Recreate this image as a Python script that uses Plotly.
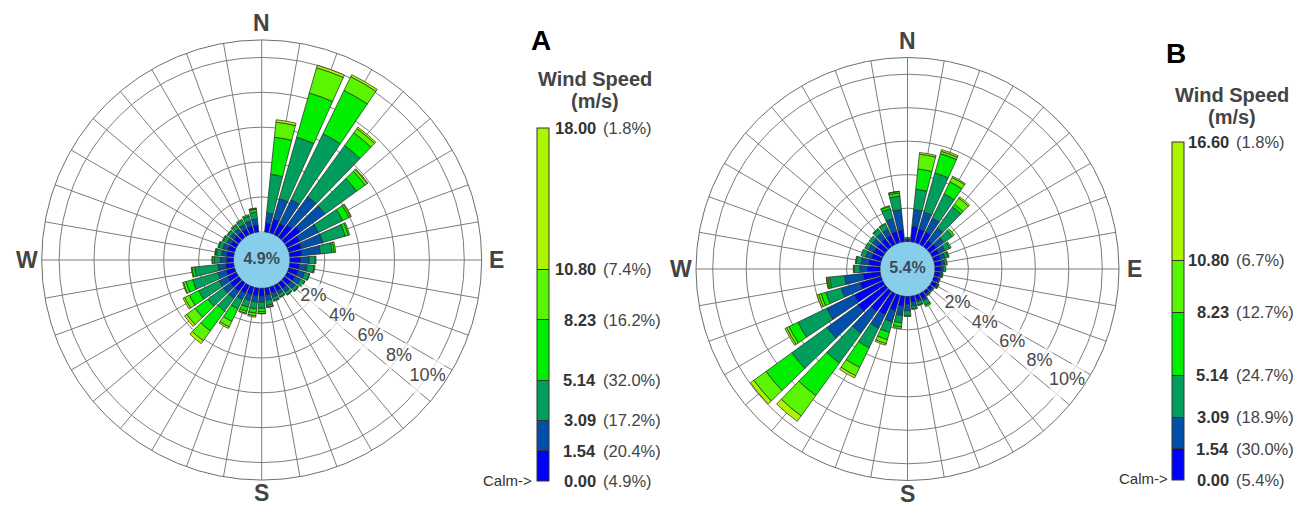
import math
import plotly.graph_objects as go

# ---------------- data ----------------
DIRECTIONS = list(range(10, 361, 10))          # bar centre directions (deg)
ANGLE_TICKS = list(range(0, 360, 10))          # spokes every 10 deg
COMPASS_THETA = [0, 90, 180, 270]
COMPASS_TEXT = ["N", "E", "S", "W"]
RING_VALUES = [2, 4, 6, 8, 10]
RING_TEXT = ["2%", "4%", "6%", "8%", "10%"]

CLASS_COLORS = ["#0000FF", "#0050AA", "#009E5C", "#00EE00", "#5AF500", "#AEF500"]

# ---- panel A ----
A_BOUNDS = [0.00, 1.54, 3.09, 5.14, 8.23, 10.80, 18.00]
A_PCT = [4.9, 20.4, 17.2, 32.0, 16.2, 7.4, 1.8]
A_CALM = "4.9%"
A_0_154 = [0.51, 0.82, 0.69, 0.87, 1.12, 0.80, 0.75, 0.70, 0.60, 0.55, 0.55, 0.50,
           0.45, 0.40, 0.35, 0.35, 0.40, 0.45, 0.45, 0.45, 0.50, 0.60, 0.60, 0.55,
           0.50, 0.45, 0.40, 0.40, 0.40, 0.35, 0.35, 0.35, 0.35, 0.40, 0.40, 0.00]
A_154_309 = [0.58, 1.22, 1.55, 2.00, 1.74, 1.20, 1.28, 1.07, 0.50, 0.45, 0.38, 0.35,
             0.30, 0.25, 0.20, 0.25, 0.30, 0.35, 0.35, 0.35, 0.40, 0.50, 0.50, 0.55,
             0.50, 0.45, 0.35, 0.30, 0.30, 0.25, 0.25, 0.25, 0.30, 0.30, 0.35, 0.00]
A_309_514 = [2.23, 3.66, 4.19, 3.62, 2.24, 1.55, 1.33, 0.68, 0.35, 0.40, 0.30, 0.28,
             0.22, 0.20, 0.20, 0.20, 0.30, 0.35, 0.40, 0.40, 0.60, 0.90, 1.10, 1.30,
             1.50, 1.35, 0.35, 0.30, 0.25, 0.25, 0.20, 0.25, 0.25, 0.30, 0.40, 0.00]
A_514_823 = [2.14, 2.64, 2.76, 0.90, 0.60, 0.40, 0.20, 0.12, 0.05, 0.06, 0.02, 0.02,
             0.03, 0.03, 0.03, 0.05, 0.10, 0.20, 0.25, 0.25, 0.80, 1.40, 0.90, 0.60,
             0.40, 0.15, 0.10, 0.07, 0.05, 0.05, 0.04, 0.07, 0.08, 0.09, 0.15, 0.00]
A_823_1080 = [0.87, 1.51, 0.88, 0.30, 0.15, 0.10, 0.07, 0.08, 0.00, 0.00, 0.00, 0.00,
              0.00, 0.00, 0.00, 0.00, 0.02, 0.10, 0.15, 0.12, 0.35, 0.70, 0.60, 0.30,
              0.15, 0.05, 0.04, 0.02, 0.00, 0.00, 0.00, 0.00, 0.00, 0.00, 0.06, 0.00]
A_1080_up = [0.14, 0.15, 0.13, 0.10, 0.05, 0.05, 0.00, 0.00, 0.00, 0.00, 0.00, 0.00,
             0.00, 0.00, 0.00, 0.00, 0.00, 0.02, 0.08, 0.05, 0.10, 0.20, 0.15, 0.10,
             0.05, 0.00, 0.00, 0.00, 0.00, 0.00, 0.00, 0.00, 0.00, 0.00, 0.02, 0.00]

# ---- panel B ----
B_BOUNDS = [0.00, 1.54, 3.09, 5.14, 8.23, 10.80, 16.60]
B_PCT = [5.4, 30.0, 18.9, 24.7, 12.7, 6.7, 1.8]
B_CALM = "5.4%"
B_0_154 = [0.92, 0.84, 0.82, 0.46, 0.50, 0.45, 0.40, 0.40, 0.35, 0.30, 0.25, 0.30,
           0.20, 0.20, 0.35, 0.30, 0.35, 0.45, 0.60, 0.95, 1.40, 1.50, 2.00, 1.90,
           1.32, 1.03, 0.75, 0.70, 0.60, 0.60, 0.60, 0.60, 0.60, 0.70, 0.72, 0.10]
B_154_309 = [1.01, 1.05, 0.92, 0.93, 0.55, 0.40, 0.30, 0.20, 0.15, 0.12, 0.10, 0.12,
             0.08, 0.08, 0.12, 0.10, 0.25, 0.40, 0.55, 0.70, 0.90, 1.60, 2.30, 1.83,
             1.16, 1.11, 0.45, 0.45, 0.35, 0.35, 0.35, 0.40, 0.40, 0.80, 1.21, 0.05]
B_309_514 = [1.22, 2.44, 1.61, 1.55, 0.60, 0.31, 0.20, 0.15, 0.15, 0.08, 0.05, 0.05,
             0.05, 0.08, 0.30, 0.20, 0.15, 0.30, 0.45, 0.65, 1.30, 2.20, 2.60, 1.91,
             0.95, 0.90, 0.35, 0.30, 0.30, 0.25, 0.25, 0.30, 0.35, 0.60, 0.81, 0.10]
B_514_823 = [1.22, 1.20, 0.80, 0.20, 0.17, 0.10, 0.05, 0.00, 0.00, 0.00, 0.00, 0.00,
             0.00, 0.00, 0.10, 0.05, 0.05, 0.05, 0.25, 0.45, 1.30, 2.40, 1.90, 0.60,
             0.30, 0.10, 0.05, 0.05, 0.00, 0.00, 0.00, 0.05, 0.05, 0.15, 0.20, 0.00]
B_823_1080 = [0.89, 0.15, 0.30, 0.45, 0.00, 0.00, 0.00, 0.00, 0.00, 0.00, 0.00, 0.00,
              0.00, 0.00, 0.00, 0.00, 0.00, 0.00, 0.10, 0.25, 0.55, 1.50, 0.90, 0.16,
              0.15, 0.08, 0.00, 0.00, 0.00, 0.00, 0.00, 0.00, 0.00, 0.05, 0.08, 0.00]
B_1080_up = [0.10, 0.10, 0.08, 0.10, 0.00, 0.00, 0.00, 0.00, 0.00, 0.00, 0.00, 0.00,
             0.00, 0.00, 0.00, 0.00, 0.00, 0.00, 0.00, 0.10, 0.15, 0.40, 0.25, 0.10,
             0.10, 0.03, 0.00, 0.00, 0.00, 0.00, 0.00, 0.00, 0.00, 0.00, 0.02, 0.00]

# ---------------- layout constants ----------------
PAGE_W, PAGE_H = 1308, 509
BODY = 8                                  # default <body> margin of the html page
W, H = PAGE_W - BODY, PAGE_H - BODY       # figure size so page == window
FONT = "Arial, 'Liberation Sans', sans-serif"
GRID = "#7d7d7d"
CALM_FILL = "#87CEEB"
R_MAX = 11
COMPASS_GAP = {0: 17, 90: 15, 180: 13, 270: 15}


def fx(x):  # page pixel -> paper x
    return (x - BODY) / W


def fy(y):  # page pixel -> paper y
    return 1 - (y - BODY) / H


PANELS = [
    dict(key="polar", cax="coloraxis", cx=261.7, cy=260.0, R=220.0, off=1.62,
         classes=[A_0_154, A_154_309, A_309_514, A_514_823, A_823_1080, A_1080_up],
         bounds=A_BOUNDS, pct=A_PCT, calm=A_CALM,
         cb_x=537, cb_top=128, cb_bot=481, num_right=598, pct_left=601,
         letter="A", letter_xy=(541, 40), title_x=595, title_y=(79, 101), calm_xy=(534, 480)),
    dict(key="polar2", cax="coloraxis2", cx=907.5, cy=269.0, R=211.5, off=1.64,
         classes=[B_0_154, B_154_309, B_309_514, B_514_823, B_823_1080, B_1080_up],
         bounds=B_BOUNDS, pct=B_PCT, calm=B_CALM,
         cb_x=1172, cb_top=142, cb_bot=480, num_right=1231, pct_left=1234,
         letter="B", letter_xy=(1176, 53), title_x=1232, title_y=(95, 117), calm_xy=(1170, 478)),
]

fig = go.Figure()
layout = dict(width=W, height=H,
              margin=dict(l=0, r=0, t=0, b=0, pad=0, autoexpand=False),
              paper_bgcolor="white", plot_bgcolor="white", showlegend=False,
              font=dict(family=FONT, color="#444"))
annotations = []

for p in PANELS:
    off = p["off"]
    # calm disk
    fig.add_trace(go.Barpolar(
        r=[off] * len(DIRECTIONS), base=[-off] * len(DIRECTIONS), theta=DIRECTIONS,
        width=[10] * len(DIRECTIONS), subplot=p["key"],
        marker=dict(color=CALM_FILL, line=dict(color=CALM_FILL, width=1)),
        hoverinfo="skip"))
    # stacked speed classes (only non-zero segments are drawn)
    cum = [0.0] * len(DIRECTIONS)
    b = p["bounds"]
    for i, vals in enumerate(p["classes"]):
        mid = (b[i] + b[i + 1]) / 2.0
        idx = [k for k, v in enumerate(vals) if v > 0]
        fig.add_trace(go.Barpolar(
            r=[vals[k] for k in idx], base=[cum[k] for k in idx],
            theta=[DIRECTIONS[k] for k in idx], width=[8.2] * len(idx),
            subplot=p["key"],
            marker=dict(color=[mid] * len(idx), coloraxis=p["cax"],
                        line=dict(color="rgba(35,45,30,0.9)", width=0.8)),
            hoverinfo="skip"))
        cum = [c + v for c, v in zip(cum, vals)]
    # ring labels with white knock-out boxes
    fig.add_trace(go.Scatterpolar(
        r=RING_VALUES, theta=[125] * len(RING_VALUES), mode="markers+text",
        text=RING_TEXT, textposition="middle center", subplot=p["key"],
        marker=dict(symbol="square", color="white", size=[24, 26, 26, 26, 34],
                    line=dict(width=0)),
        textfont=dict(family=FONT, size=18, color="#4a4a4a"), hoverinfo="skip"))
    # calm text
    fig.add_trace(go.Scatterpolar(
        r=[-off + 0.001], theta=[0], mode="text", text=["<b>%s</b>" % p["calm"]],
        textposition="middle center", subplot=p["key"],
        textfont=dict(family=FONT, size=16, color="#3d4a57"), hoverinfo="skip"))

    cx, cy, R = p["cx"], p["cy"], p["R"]
    layout[p["key"]] = dict(
        domain=dict(x=[fx(cx - R), fx(cx + R)], y=[fy(cy + R), fy(cy - R)]),
        bgcolor="white", barmode="overlay", hole=0,
        radialaxis=dict(range=[-off, R_MAX], tickvals=RING_VALUES, showticklabels=False,
                        ticks="", showline=False, gridcolor=GRID, gridwidth=1),
        angularaxis=dict(rotation=90, direction="clockwise", tickvals=ANGLE_TICKS,
                         showticklabels=False, ticks="", showline=True,
                         linecolor="#6e6e6e", linewidth=1,
                         gridcolor=GRID, gridwidth=1),
    )

    # compass letters just outside the outer ring
    for th, t in zip(COMPASS_THETA, COMPASS_TEXT):
        gap = COMPASS_GAP[th]
        ang = math.radians(th)
        lx = cx + (R + gap) * math.sin(ang)
        ly = cy - (R + gap) * math.cos(ang)
        annotations.append(dict(
            x=fx(lx), y=fy(ly), xref="paper", yref="paper", text="<b>%s</b>" % t,
            showarrow=False, xanchor="center", yanchor="middle",
            font=dict(family=FONT, size=23, color="#444")))

    # colour axis + legend bar
    cmax = b[-1]
    cs = []
    for i, col in enumerate(CLASS_COLORS):
        cs.append([b[i] / cmax, col])
        cs.append([b[i + 1] / cmax, col])
    layout[p["cax"]] = dict(
        cmin=0, cmax=cmax, colorscale=cs,
        colorbar=dict(
            thickness=12, thicknessmode="pixels",
            len=p["cb_bot"] - p["cb_top"], lenmode="pixels",
            x=fx(p["cb_x"]), xanchor="left", xpad=0,
            y=fy((p["cb_top"] + p["cb_bot"]) / 2), yanchor="middle", ypad=0,
            outlinewidth=1, outlinecolor="#333",
            tickvals=b, showticklabels=False, ticks="inside", ticklen=12,
            tickcolor="#333", tickwidth=1))

    # legend labels: value (bold, right aligned) + class share (left aligned)
    for v, pc in zip(b, p["pct"]):
        ly = p["cb_bot"] - (v / cmax) * (p["cb_bot"] - p["cb_top"])
        annotations.append(dict(
            x=fx(p["num_right"]), y=fy(ly), xref="paper", yref="paper",
            text="<b>%.2f</b>" % v, showarrow=False, xanchor="right", yanchor="middle",
            font=dict(family=FONT, size=16.5, color="#333")))
        annotations.append(dict(
            x=fx(p["pct_left"]), y=fy(ly), xref="paper", yref="paper",
            text="(%.1f%%)" % pc, showarrow=False, xanchor="left", yanchor="middle",
            font=dict(family=FONT, size=16.5, color="#444")))

    annotations += [
        dict(x=fx(p["letter_xy"][0]), y=fy(p["letter_xy"][1]), xref="paper", yref="paper",
             text="<b>%s</b>" % p["letter"], showarrow=False,
             font=dict(family=FONT, size=28, color="black"), xanchor="center", yanchor="middle"),
        dict(x=fx(p["title_x"]), y=fy(p["title_y"][0]), xref="paper", yref="paper",
             text="<b>Wind Speed</b>", showarrow=False,
             font=dict(family=FONT, size=20, color="#444"), xanchor="center", yanchor="middle"),
        dict(x=fx(p["title_x"]), y=fy(p["title_y"][1]), xref="paper", yref="paper",
             text="<b>(m/s)</b>", showarrow=False,
             font=dict(family=FONT, size=20, color="#444"), xanchor="center", yanchor="middle"),
        dict(x=fx(p["calm_xy"][0]), y=fy(p["calm_xy"][1]), xref="paper", yref="paper",
             text="Calm->", showarrow=False,
             font=dict(family=FONT, size=15, color="#333"), xanchor="right", yanchor="middle"),
    ]

layout["annotations"] = annotations
fig.update_layout(**layout)
fig.write_html("out.html")
